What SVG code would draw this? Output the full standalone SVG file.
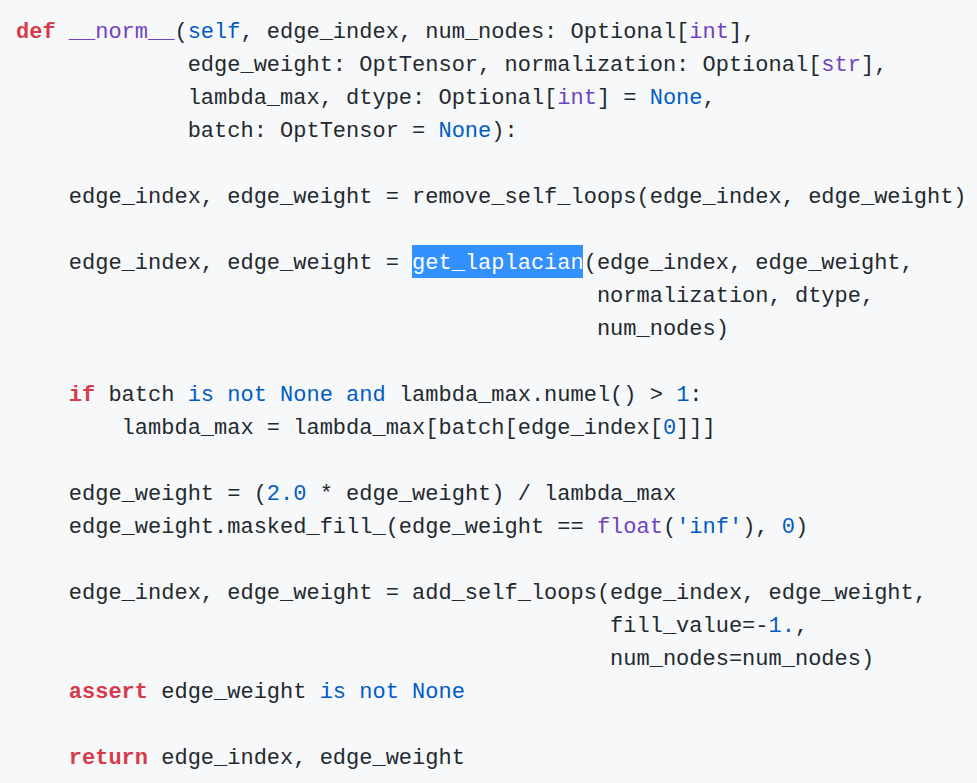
<svg xmlns="http://www.w3.org/2000/svg" width="977" height="783" viewBox="0 0 977 783">
<style>
text{font-family:"Liberation Mono","DejaVu Sans Mono",monospace;font-size:22px;fill:#24292e;white-space:pre}
.k{fill:#d73a49;font-weight:bold}
.f{fill:#6f42c1}
.b{fill:#005cc5}
.s{fill:#032f62}
.h{fill:#ffffff}
</style>
<rect width="977" height="783" fill="#f6f8fa"/>
<rect x="412" y="245" width="171" height="33" fill="#3390ff"/>
<g id="code" xml:space="preserve">
<text x="16" y="38"><tspan class="k">def</tspan> <tspan class="f">__norm__</tspan>(<tspan class="b">self</tspan>, edge_index, num_nodes: Optional[<tspan class="f">int</tspan>],</text>
<text x="16" y="71">             edge_weight: OptTensor, normalization: Optional[<tspan class="f">str</tspan>],</text>
<text x="16" y="104">             lambda_max, dtype: Optional[<tspan class="f">int</tspan>] = <tspan class="b">None</tspan>,</text>
<text x="16" y="137">             batch: OptTensor = <tspan class="b">None</tspan>):</text>
<text x="16" y="203">    edge_index, edge_weight = remove_self_loops(edge_index, edge_weight)</text>
<text x="16" y="269">    edge_index, edge_weight = <tspan class="h">get_laplacian</tspan>(edge_index, edge_weight,</text>
<text x="16" y="302">                                            normalization, dtype,</text>
<text x="16" y="335">                                            num_nodes)</text>
<text x="16" y="401">    <tspan class="k">if</tspan> batch <tspan class="b">is not</tspan> <tspan class="b">None</tspan> <tspan class="b">and</tspan> lambda_max.numel() &gt; <tspan class="b">1</tspan>:</text>
<text x="16" y="434">        lambda_max = lambda_max[batch[edge_index[<tspan class="b">0</tspan>]]]</text>
<text x="16" y="500">    edge_weight = (<tspan class="b">2.0</tspan> * edge_weight) / lambda_max</text>
<text x="16" y="533">    edge_weight.masked_fill_(edge_weight == <tspan class="f">float</tspan>(<tspan class="b">'inf'</tspan>), <tspan class="b">0</tspan>)</text>
<text x="16" y="599">    edge_index, edge_weight = add_self_loops(edge_index, edge_weight,</text>
<text x="16" y="632">                                             fill_value=-<tspan class="b">1.</tspan>,</text>
<text x="16" y="665">                                             num_nodes=num_nodes)</text>
<text x="16" y="698">    <tspan class="k">assert</tspan> edge_weight <tspan class="b">is not</tspan> <tspan class="b">None</tspan></text>
<text x="16" y="764">    <tspan class="k">return</tspan> edge_index, edge_weight</text>
</g>
</svg>
